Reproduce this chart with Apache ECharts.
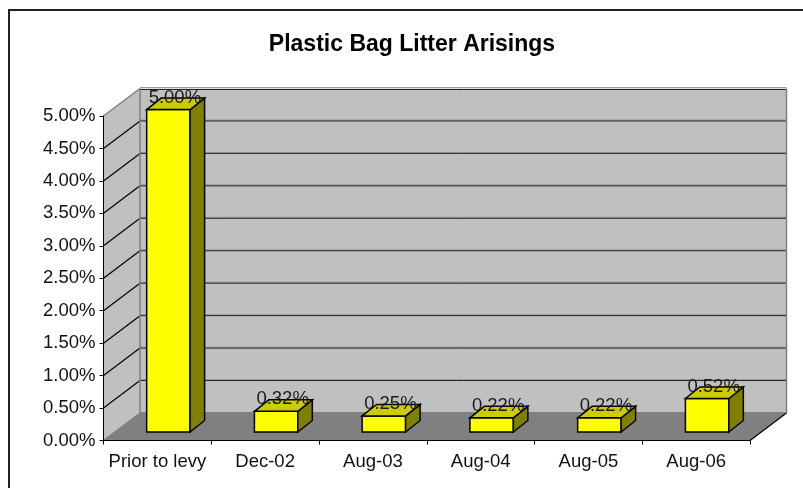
<!DOCTYPE html>
<html><head><meta charset="utf-8">
<style>html,body{margin:0;padding:0;background:#fff}#c{width:803px;height:488px}</style>
<script src="https://cdn.jsdelivr.net/npm/echarts@6/dist/echarts.min.js"></script>
</head><body><div id="c"></div>
<script>
const titleText = 'Plastic Bag Litter Arisings';
const categories = ['Prior to levy', 'Dec-02', 'Aug-03', 'Aug-04', 'Aug-05', 'Aug-06'];
const values = [5.00, 0.32, 0.25, 0.22, 0.22, 0.52];
const yTicks = [0, 0.5, 1, 1.5, 2, 2.5, 3, 3.5, 4, 4.5, 5];

const FONT = '"Liberation Sans", Arial, sans-serif';
const WALL = [36.5, -27.5];       // full depth of the 3D box
const GAP = [11, -8.5];           // floor margin in front of a bar
const BAR = [14.5, -11.5];        // depth of a bar
const BAR_W = 0.403;              // bar width as a share of the category band
const BAR_H = 0.9935;             // bars stand on the floor, slightly foreshortened

const pt = (p, d) => [p[0] + d[0], p[1] + d[1]];
const poly = (points, fill, stroke, lw) => ({
  type: 'polygon', shape: { points },
  style: { fill: fill, stroke: stroke || null, lineWidth: lw || 0, lineJoin: 'miter' }
});
const line = (a, b, stroke, lw) => ({
  type: 'line', shape: { x1: a[0], y1: a[1], x2: b[0], y2: b[1] },
  style: { stroke, lineWidth: lw, fill: null }
});

function renderWalls(params, api) {
  const c = params.coordSys;
  const bl = [c.x, c.y + c.height], br = [c.x + c.width, c.y + c.height], tl = [c.x, c.y];
  const blB = pt(bl, WALL), brB = pt(br, WALL), tlB = pt(tl, WALL);
  const trB = [brB[0], tlB[1]];
  return { type: 'group', children: [
    poly([tl, tlB, blB, bl], '#C0C0C0'),
    poly([tlB, trB, brB, blB], '#C0C0C0'),
    poly([bl, br, brB, blB], '#808080')
  ]};
}
function renderGrid(params, api) {
  const v = api.value(0);
  const c = params.coordSys;
  const y = api.coord([0, v])[1];
  const a = [c.x, y], b = pt(a, WALL), e = [c.x + c.width + WALL[0], b[1]];
  const first = v === yTicks[0], last = v === yTicks[yTicks.length - 1];
  const kids = [line(a, b, (first || last) ? '#808080' : '#000', (first || last) ? 1.5 : 1.2)];
  if (first) kids.push(line(b, e, '#808080', 2));
  else {
    kids.push(line([b[0], b[1] - 1], [e[0], e[1] - 1], '#999', 1));
    kids.push(line([b[0], b[1] + (last ? 1 : 0)], [e[0], e[1] + (last ? 1 : 0)], '#222', 1));
  }
  return { type: 'group', children: kids };
}
function renderEdges(params, api) {
  const c = params.coordSys;
  const tlB = pt([c.x, c.y], WALL), blB = pt([c.x, c.y + c.height], WALL);
  const brB = pt([c.x + c.width, c.y + c.height], WALL);
  const brF = [c.x + c.width, c.y + c.height];
  return { type: 'group', children: [
    line(tlB, blB, '#808080', 1.5),
    line([brB[0], tlB[1]], brB, '#808080', 1.5),
    line(brF, brB, '#000', 1.2)
  ]};
}
function renderBar(params, api) {
  const i = api.value(0), v = api.value(1);
  const w = api.size([1, 0])[0] * BAR_W;
  const top = api.coord([i, v]), base = api.coord([i, 0]);
  const cx = top[0] + GAP[0];
  const l = cx - w / 2, r = cx + w / 2;
  const yB = base[1] + GAP[1], yT = yB - (base[1] - top[1]) * BAR_H;
  const ft = [l, yT], fr = [r, yT], rb = [r, yB], lb = [l, yB];
  const S = '#000', LW = 1.5;
  return { type: 'group', children: [
    poly([ft, fr, rb, lb], '#FFFF00', S, LW),
    poly([fr, pt(fr, BAR), pt(rb, BAR), rb], '#808000', S, LW),
    poly([ft, pt(ft, BAR), pt(fr, BAR), fr], '#CCCC00', S, LW),
    { type: 'text', z2: 10, style: {
        text: v.toFixed(2) + '%', x: cx + 6.5, y: yT - 12, align: 'center', verticalAlign: 'middle',
        font: '18.5px ' + FONT, fill: '#1a1a1a' } }
  ]};
}

const chart = echarts.init(document.getElementById('c'), null, { renderer: 'canvas' });
chart.setOption({
  animation: false,
  backgroundColor: '#fff',
  title: { text: titleText, left: 407, top: 28, textAlign: 'center',
    textStyle: { fontFamily: FONT, fontWeight: 'bold', fontSize: 23, color: '#000' } },
  grid: { left: 103.5, right: 53, top: 116, bottom: 47.5 },
  xAxis: { type: 'category', data: categories, boundaryGap: true, z: 5,
    axisLine: { lineStyle: { color: '#000', width: 1 } },
    axisTick: { show: true, length: 4, lineStyle: { color: '#000' } },
    axisLabel: { fontFamily: FONT, fontSize: 18.5, color: '#111', margin: 12, interval: 0 },
    splitLine: { show: false } },
  yAxis: { type: 'value', min: 0, max: 5, interval: 0.5, z: 5,
    axisLine: { show: true, lineStyle: { color: '#000', width: 1 } },
    axisTick: { show: true, length: 4, lineStyle: { color: '#000' } },
    axisLabel: { fontFamily: FONT, fontSize: 18.5, color: '#111', margin: 8,
      formatter: v => v.toFixed(2) + '%' },
    splitLine: { show: false } },
  graphic: [{ type: 'polyline', silent: true, z: 100,
    shape: { points: [[9, 488], [9, 10], [803, 10]] },
    style: { stroke: '#222', lineWidth: 2, fill: null } }],
  series: [
    { type: 'custom', z: 1, silent: true, renderItem: renderWalls, data: [[0]], encode: { x: 0 } },
    { type: 'custom', z: 2, silent: true, renderItem: renderGrid, data: yTicks.map(v => [v]), encode: { y: 0 } },
    { type: 'custom', z: 3, silent: true, renderItem: renderEdges, data: [[0]], encode: { x: 0 } },
    { type: 'custom', z: 4, silent: true, renderItem: renderBar,
      data: values.map((v, i) => [i, v]), encode: { x: 0, y: 1 } }
  ]
});
</script></body></html>
